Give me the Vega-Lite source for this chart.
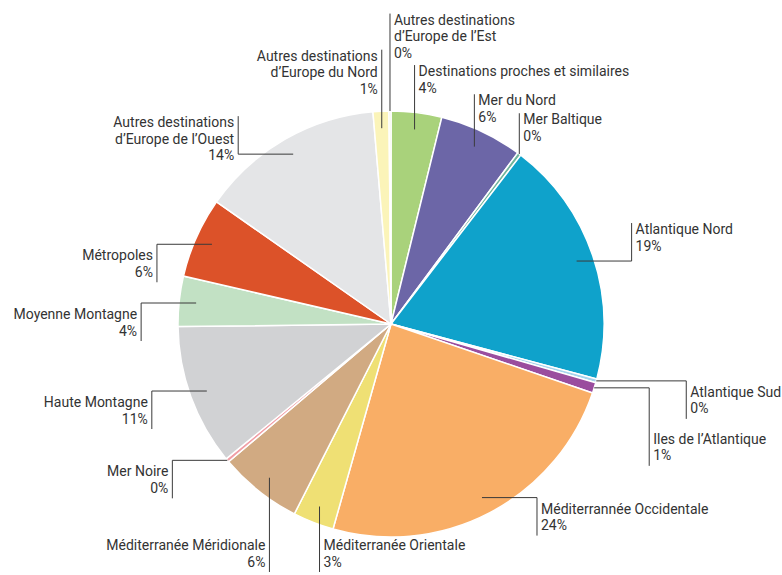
{
  "$schema": "https://vega.github.io/schema/vega-lite/v6.json",
  "width": 782,
  "height": 502,
  "autosize": "none",
  "padding": {"left": 0, "top": 73, "right": 0, "bottom": 0},
  "background": "white",
  "config": {"view": {"stroke": null}},
  "data": {"values": [
    {"order": 1, "category": "Destinations proches et similaires", "label": "Destinations proches et similaires", "value": 3.83},
    {"order": 2, "category": "Mer du Nord", "label": "Mer du Nord", "value": 6.3},
    {"order": 3, "category": "Mer Baltique", "label": "Mer Baltique", "value": 0.28},
    {"order": 4, "category": "Atlantique Nord", "label": "Atlantique Nord", "value": 18.7},
    {"order": 5, "category": "Atlantique Sud", "label": "Atlantique Sud", "value": 0.28},
    {"order": 6, "category": "Iles de l’Atlantique", "label": "Iles de l’Atlantique", "value": 0.8},
    {"order": 7, "category": "Méditerrannée Occidentale", "label": "Méditerrannée Occidentale", "value": 24.1},
    {"order": 8, "category": "Méditerranée Orientale", "label": "Méditerranée Orientale", "value": 3.1},
    {"order": 9, "category": "Méditerranée Méridionale", "label": "Méditerranée Méridionale", "value": 6.3},
    {"order": 10, "category": "Mer Noire", "label": "Mer Noire", "value": 0.28},
    {"order": 11, "category": "Haute Montagne", "label": "Haute Montagne", "value": 10.7},
    {"order": 12, "category": "Moyenne Montagne", "label": "Moyenne Montagne", "value": 3.8},
    {"order": 13, "category": "Métropoles", "label": "Métropoles", "value": 6.1},
    {"order": 14, "category": "Autres destinations d’Europe de l’Ouest", "label": "Autres destinations\nd’Europe de l’Ouest", "value": 13.9},
    {"order": 15, "category": "Autres destinations d’Europe du Nord", "label": "Autres destinations\nd’Europe du Nord", "value": 1.2},
    {"order": 16, "category": "Autres destinations d’Europe de l’Est", "label": "Autres destinations\nd’Europe de l’Est", "value": 0.15}
  ]},
  "transform": [
    {"stack": "value", "groupby": [], "sort": [{"field": "order"}], "as": ["s0", "s1"], "offset": "normalize"},
    {"calculate": "(datum.s0 + datum.s1) / 2", "as": "mid"},
    {"window": [{"op": "lag", "field": "mid", "as": "prevMid"}, {"op": "lead", "field": "mid", "as": "nextMid"}], "sort": [{"field": "order"}]},
    {"calculate": "datum.mid * 2 * PI", "as": "a"},
    {"calculate": "datum.mid * 360 > 180 ? datum.mid * 360 - 360 : datum.mid * 360", "as": "sdeg"},
    {"calculate": "datum.value < 1 ? 213 : 196", "as": "R"},
    {"calculate": "datum.R * sin(datum.a)", "as": "sx"},
    {"calculate": "-datum.R * cos(datum.a)", "as": "sy"},
    {"calculate": "isValid(datum.prevMid) && (datum.mid - datum.prevMid) * 360 < 5", "as": "crowdPrev"},
    {"calculate": "isValid(datum.nextMid) && (datum.nextMid - datum.mid) * 360 < 5", "as": "crowdNext"},
    {"calculate": "abs(cos(datum.a)) > 0.75 && datum.value < 10", "as": "vert"},
    {"calculate": "cos(datum.a) > 0", "as": "top"},
    {"calculate": "datum.vert ? datum.sx > (datum.top ? -5 : -100) : sin(datum.a) > 0", "as": "right"},
    {"calculate": "datum.vert ? datum.sx : datum.sx + (datum.right ? 1 : -1) * (datum.crowdNext ? 90 : 55)", "as": "ex"},
    {"calculate": "datum.vert ? datum.top : (sin(datum.a) > 0 ? cos(datum.a) > 0.3 : cos(datum.a) > 0.6)", "as": "up"},
    {"calculate": "datum.vert ? (datum.top ? -270 + 1.6 * datum.sdeg - (datum.crowdPrev ? 40 : 0) : 248) : datum.sy + (datum.up ? -1 : 1) * (datum.crowdPrev ? 78 : 38)", "as": "ty"},
    {"calculate": "datum.label + '\\n' + round(datum.value) + '%'", "as": "txt"},
    {"calculate": "datum.up ? datum.ty : datum.ty - length(split(datum.txt, '\\n')) * 16.5", "as": "textTop"},
    {"calculate": "datum.ex + (datum.right ? 4 : -4)", "as": "tx"}
  ],
  "layer": [
    {
      "mark": {"type": "arc", "outerRadius": 213, "stroke": "white", "strokeWidth": 1.5},
      "encoding": {
        "theta": {"field": "s0", "type": "quantitative", "stack": null, "scale": {"domain": [0, 1], "range": [0, 6.283185307179586]}},
        "theta2": {"field": "s1"},
        "color": {
          "field": "category", "type": "nominal", "legend": null,
          "scale": {
            "domain": ["Destinations proches et similaires", "Mer du Nord", "Mer Baltique", "Atlantique Nord", "Atlantique Sud", "Iles de l’Atlantique", "Méditerrannée Occidentale", "Méditerranée Orientale", "Méditerranée Méridionale", "Mer Noire", "Haute Montagne", "Moyenne Montagne", "Métropoles", "Autres destinations d’Europe de l’Ouest", "Autres destinations d’Europe du Nord", "Autres destinations d’Europe de l’Est"],
            "range": ["#a9d27b", "#6c66a7", "#70b59b", "#0fa2cb", "#a6d3ec", "#9a4d9e", "#f9ae66", "#efe074", "#d1aa82", "#f19ea6", "#d1d2d4", "#c2e1c4", "#dc5229", "#e4e5e7", "#fbf4b9", "#e9ecd9"]
          }
        }
      }
    },
    {
      "mark": {"type": "rule", "color": "#3a3a3a", "strokeWidth": 1},
      "encoding": {
        "x": {"field": "sx", "type": "quantitative", "scale": {"domain": [-391, 391], "nice": false, "zero": false}, "axis": null},
        "x2": {"field": "ex"},
        "y": {"field": "sy", "type": "quantitative", "scale": {"domain": [-251, 251], "nice": false, "zero": false, "reverse": true}, "axis": null},
        "y2": {"field": "sy"}
      }
    },
    {
      "mark": {"type": "rule", "color": "#3a3a3a", "strokeWidth": 1},
      "encoding": {
        "x": {"field": "ex", "type": "quantitative", "scale": {"domain": [-391, 391], "nice": false, "zero": false}, "axis": null},
        "y": {"field": "sy", "type": "quantitative", "scale": {"domain": [-251, 251], "nice": false, "zero": false, "reverse": true}, "axis": null},
        "y2": {"field": "ty"}
      }
    },
    {
      "transform": [{"filter": "datum.right"}],
      "mark": {"type": "text", "align": "left", "baseline": "top", "lineBreak": "\n", "lineHeight": 16.5, "font": "Roboto", "fontSize": 14, "color": "#333333"},
      "encoding": {
        "x": {"field": "tx", "type": "quantitative", "scale": {"domain": [-391, 391], "nice": false, "zero": false}, "axis": null},
        "y": {"field": "textTop", "type": "quantitative", "scale": {"domain": [-251, 251], "nice": false, "zero": false, "reverse": true}, "axis": null},
        "text": {"field": "txt", "type": "nominal"}
      }
    },
    {
      "transform": [{"filter": "!datum.right"}],
      "mark": {"type": "text", "align": "right", "baseline": "top", "lineBreak": "\n", "lineHeight": 16.5, "font": "Roboto", "fontSize": 14, "color": "#333333"},
      "encoding": {
        "x": {"field": "tx", "type": "quantitative", "scale": {"domain": [-391, 391], "nice": false, "zero": false}, "axis": null},
        "y": {"field": "textTop", "type": "quantitative", "scale": {"domain": [-251, 251], "nice": false, "zero": false, "reverse": true}, "axis": null},
        "text": {"field": "txt", "type": "nominal"}
      }
    }
  ]
}
